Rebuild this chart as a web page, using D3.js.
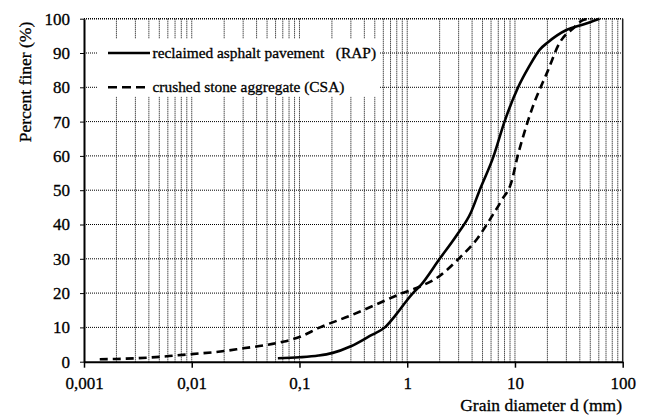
<!DOCTYPE html>
<html lang="en">
<head>
<meta charset="UTF-8">
<title>Grain size distribution - RAP vs CSA</title>
<script src="https://d3js.org/d3.v7.min.js"></script>
<style>
    body { margin: 0; background: #fff; }
    svg text { font-family: "Liberation Serif", "Times New Roman", serif; fill: #000; stroke: #000; stroke-width: 0.3px; }
</style>
</head>
<body>
<svg width="650" height="416"></svg>
<script>
    // data (grain diameter in mm, percent finer)
    const rapD = [0.063, 0.1, 0.15, 0.2, 0.3, 0.45, 0.62, 0.8, 1.0, 1.13, 1.31, 2.0, 2.9, 3.9, 4.7, 6.35, 8.0, 10.7, 13.5, 17, 20, 30, 43, 61];
    const rapP = [1.0, 1.3, 1.8, 2.5, 4.5, 7.5, 10, 14, 18, 20, 22, 30, 37, 43.5, 50, 60, 70, 80, 86, 91, 93, 96.7, 98.3, 100];
    const csaD = [0.0014, 0.002, 0.003, 0.005, 0.007, 0.01, 0.02, 0.03, 0.05, 0.07, 0.1, 0.155, 0.3, 0.5, 0.9, 1.22, 2.0, 3.0, 4.5, 6, 7.5, 9.3, 10.6, 12, 14.5, 20, 26, 35, 43, 52];
    const csaP = [0.7, 0.8, 1.0, 1.4, 1.8, 2.2, 3.1, 3.9, 4.9, 5.8, 7.2, 10, 13.5, 16.5, 20, 21.5, 25, 30, 36, 42, 47, 52.5, 60, 66, 74, 84.5, 93, 97.3, 99.6, 100];
    const xTicks = [0.001, 0.01, 0.1, 1, 10, 100];
    const xTickLabels = ["0,001", "0,01", "0,1", "1", "10", "100"];
    const yTicks = [0, 10, 20, 30, 40, 50, 60, 70, 80, 90, 100];
    const seriesNames = ["reclaimed asphalt pavement\u00A0\u00A0 (RAP)", "crushed stone aggregate (CSA)"];

    const svg = d3.select("svg"),
        margin = { top: 18.7, right: 27.3, bottom: 54.3, left: 84 },
        width = 650 - margin.left - margin.right,
        height = 416 - margin.top - margin.bottom,
        g = svg.append("g").attr("transform", `translate(${margin.left},${margin.top})`);

    const x = d3.scaleLog().domain([0.001, 100]).range([0, width]);
    const y = d3.scaleLinear().domain([0, 100]).range([height, 0]);

    // minor grid: 1..9 in each decade
    const gridX = [];
    for (let e = -3; e < 2; e++) {
        for (let k = 1; k < 10; k++) gridX.push(k * Math.pow(10, e));
    }

    g.append("g").selectAll("line").data(gridX.filter(d => d > 0.001)).join("line")
        .attr("x1", d => x(d)).attr("x2", d => x(d))
        .attr("y1", 0).attr("y2", height)
        .attr("stroke", "#000").attr("stroke-width", 1).attr("stroke-dasharray", "1,1");

    g.append("g").selectAll("line").data(yTicks.filter(d => d > 0)).join("line")
        .attr("x1", 0).attr("x2", width)
        .attr("y1", d => y(d)).attr("y2", d => y(d))
        .attr("stroke", "#000").attr("stroke-width", d => d === 100 ? 1.6 : 1).attr("stroke-dasharray", "1,1");

    // legend background hides the grid
    g.append("rect")
        .attr("x", 13).attr("y", 20)
        .attr("width", 283).attr("height", 58)
        .attr("fill", "#fff");

    // right border
    g.append("line")
        .attr("x1", width).attr("x2", width).attr("y1", 0).attr("y2", height)
        .attr("stroke", "#222").attr("stroke-width", 1.5);

    // axes
    const xAxis = g.append("g").attr("transform", `translate(0,${height})`)
        .call(d3.axisBottom(x).tickValues(xTicks).tickFormat((d, i) => xTickLabels[i]).tickSize(6).tickSizeOuter(0));
    xAxis.attr("font-family", null);
    xAxis.select(".domain").attr("stroke-width", 2);
    xAxis.selectAll(".tick line").attr("stroke-width", 1.5);
    xAxis.selectAll("text").attr("font-size", "17px").attr("dy", "1.05em");

    const yAxis = g.append("g")
        .call(d3.axisLeft(y).tickValues(yTicks).tickSize(4).tickSizeOuter(0));
    yAxis.attr("font-family", null);
    yAxis.select(".domain").attr("stroke-width", 2);
    yAxis.selectAll("text").attr("font-size", "17px").attr("x", -14);

    // curves
    const line = d3.line()
        .x(d => x(d[0]))
        .y(d => y(d[1]))
        .curve(d3.curveMonotoneX);

    g.append("path")
        .datum(d3.zip(rapD, rapP))
        .attr("d", line)
        .attr("fill", "none").attr("stroke", "#000").attr("stroke-width", 2.6);

    g.append("path")
        .datum(d3.zip(csaD, csaP))
        .attr("d", line)
        .attr("fill", "none").attr("stroke", "#000").attr("stroke-width", 2.6)
        .attr("stroke-dasharray", "8,5");

    // legend
    const legend = g.append("g");
    [90, 80].forEach((v, i) => {
        legend.append("line")
            .attr("x1", 24).attr("x2", 66)
            .attr("y1", y(v)).attr("y2", y(v))
            .attr("stroke", "#000").attr("stroke-width", 2.6)
            .attr("stroke-dasharray", i === 1 ? "9,5" : null);
        legend.append("text")
            .attr("x", 68.5).attr("y", y(v) + 5)
            .attr("font-size", "15.4px")
            .text(seriesNames[i]);
    });

    // axis titles
    svg.append("text")
        .attr("transform", "translate(31,82) rotate(-90)")
        .attr("text-anchor", "middle")
        .attr("font-size", "17.5px")
        .text("Percent finer (%)");

    svg.append("text")
        .attr("x", 622).attr("y", 411)
        .attr("text-anchor", "end")
        .attr("font-size", "17.5px")
        .text("Grain diameter d (mm)");
</script>
</body>
</html>
